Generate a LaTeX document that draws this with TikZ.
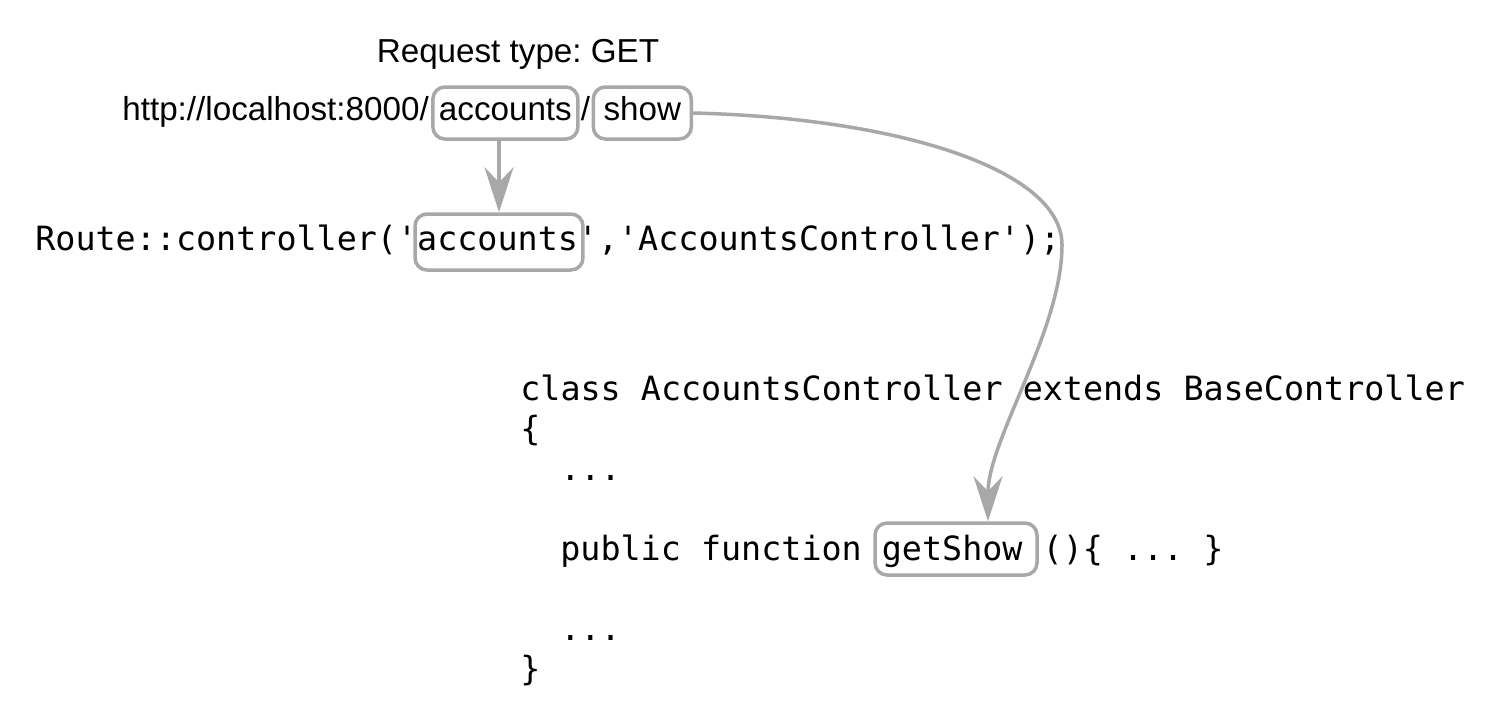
\documentclass[tikz,border=0pt]{standalone}
\usepackage{fontspec}
\setsansfont{Liberation Sans}
\setmonofont{DejaVu Sans Mono}
\usetikzlibrary{positioning,arrows.meta}
\definecolor{linkgray}{HTML}{A8A8A8}
\tikzset{
  sans/.style={font=\sffamily\fontsize{18.9pt}{22pt}\selectfont\frenchspacing, inner sep=0pt,
    text height=0.46cm, text depth=0.18cm},
  code/.style={font=\ttfamily\fontsize{19pt}{22pt}\selectfont, inner sep=0pt, anchor=base west},
  wordbox/.style={draw=linkgray, line width=0.07cm, rounded corners=0.24cm},
  link/.style={draw=linkgray, line width=0.07cm,
    -{Stealth[length=0.9cm, width=0.58cm, inset=0.3cm]}}
}
\begin{document}
\begin{tikzpicture}[x=0.02cm, y=-0.02cm]
\useasboundingbox (0,0) rectangle (1500,725);
% request url
\node[sans, anchor=base] (reqtype) at (518,62) {Request type: GET};
\node[sans, anchor=base west] (url) at (122,120) {http://localhost:8000/};
\node[sans, wordbox, minimum width=2.9cm, minimum height=1.04cm, right=0.04cm of url] (uacc) {accounts};
\node[sans, right=0.02cm of uacc] (slash) {/};
\node[sans, wordbox, minimum width=1.96cm, minimum height=1.04cm, right=0.02cm of slash] (ushow) {show};
% route
\node[code] (route) at (35,250) {Route::controller('accounts','AccountsController');};
\node[wordbox, minimum width=3.36cm, minimum height=1.12cm] (racc) at (499,242) {};
% controller class
\node[code] (cls) at (520,400) {class AccountsController extends BaseController};
\node[code] (open) at (520,440) {\{};
\node[code] (dots1) at (560,480) {...};
\node[code] (func) at (560,560) {public function getShow ()\{ ... \}};
\node[code] (dots2) at (560,640) {...};
\node[code] (close) at (520,680) {\}};
\node[wordbox, minimum width=3.24cm, minimum height=1.04cm] (getshow) at (956,549) {};
% arrows
\draw[link] (uacc.south -| racc.north) -- (racc.north);
\draw[link] (ushow.east) .. controls (900,118) and (1062,170) .. (1062,245)
  .. controls (1062,330) and (988,440) .. ([xshift=0.64cm]getshow.north);
\end{tikzpicture}
\end{document}
